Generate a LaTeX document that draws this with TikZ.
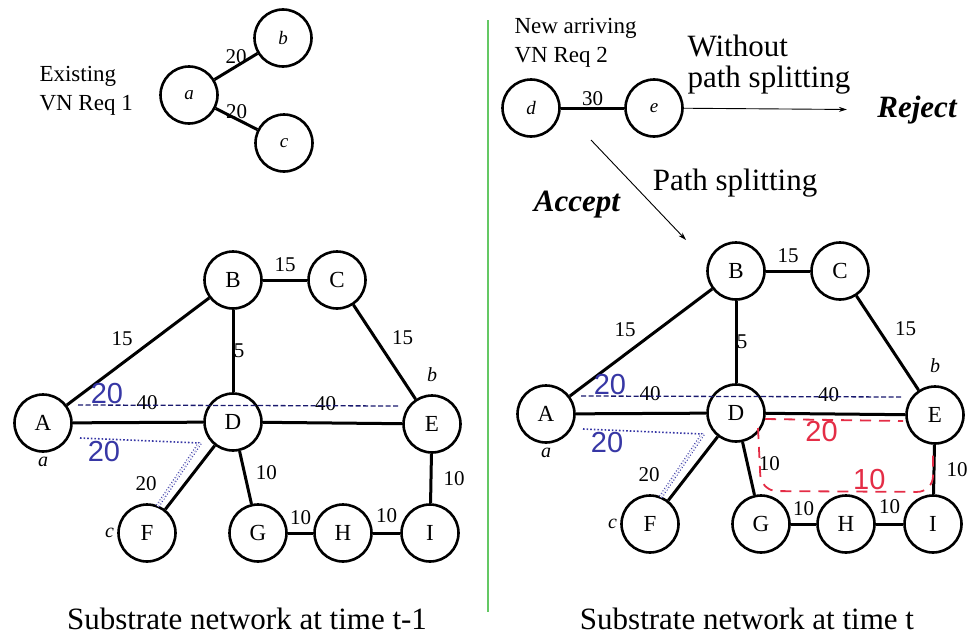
\documentclass[tikz,border=0pt]{standalone}
\usepackage{fontspec}
\setmainfont{Liberation Serif}
\newfontfamily\numsans{Liberation Sans}
\usetikzlibrary{calc,arrows.meta}

\definecolor{reqblue}{RGB}{55,55,165}
\definecolor{pathnavy}{RGB}{25,25,110}
\definecolor{splitred}{RGB}{228,45,70}
\definecolor{divgreen}{RGB}{100,200,100}

\tikzset{
  vnode/.style={draw, circle, line width=2.6pt, minimum size=57pt, inner sep=0pt, font=\fontsize{19}{19}\selectfont\itshape},
  snode/.style={draw, circle, line width=2.6pt, minimum size=57pt, inner sep=0pt, font=\fontsize{23}{23}\selectfont},
  link/.style={line width=3pt},
  wt/.style={font=\fontsize{21}{21}\selectfont, inner sep=1pt},
  mapto/.style={font=\fontsize{20}{20}\selectfont\itshape, inner sep=1pt},
  bignum/.style={font=\fontsize{29}{29}\selectfont\numsans, inner sep=1pt},
  note/.style={align=left, font=\fontsize{23}{29}\selectfont},
  bigtext/.style={font=\fontsize{31}{31}\selectfont},
  verdict/.style={font=\fontsize{31}{31}\selectfont\bfseries\itshape},
  flow/.style={-{Stealth[length=8pt,width=5pt]}, line width=0.9pt},
  redsplit/.style={splitred, line width=1.8pt, dash pattern=on 11pt off 8pt},
}

\begin{document}
\begin{tikzpicture}[x=1pt, y=-1pt]
  \useasboundingbox (0,0) rectangle (968,637);

  % existing request
  \node[vnode] (a) at (189,95) {a};
  \node[vnode] (b) at (283,38) {b};
  \node[vnode] (c) at (284,143) {c};
  \node[note, anchor=west] (req1) at (36,91) {Existing\\VN Req 1};
  \draw[link] (a) -- node[wt, above]{20} (b);
  \draw[link] (a) -- node[wt, above=-2pt]{20} (c);

  % new request
  \node[vnode] (d) at (531,108) {d};
  \node[vnode] (e) at (654,108) {e};
  \node[note, anchor=west] (req2) at (511,43) {New arriving\\VN Req 2};
  \node[verdict] (reject) at (917,110) {Reject};
  \draw[link] (d) -- node[wt, above]{30} (e);
  \draw[flow, shorten >=27pt] (e) -- node[bigtext, pos=0, anchor=south west, align=left, yshift=10pt]{Without\\path splitting} (reject);
  \node[bigtext] (pathsplit) at (735,183) {Path splitting};
  \node[verdict] (accept) at (577,205) {Accept};
  \coordinate (splitfrom) at (591,140);
  \coordinate (splitto) at (686,240);
  \draw[flow] (splitfrom) -- (splitto);

  % divider
  \draw[divgreen, line width=1.6pt] (488,20) -- (488,612);

  % substrate network, t-1 and t
  \foreach \p/\dx/\dy in {1/0/0, 2/503/-9}{
  \begin{scope}[shift={(\dx,\dy)}]
    \node[snode] (A\p) at (43,423) {A};
    \node[snode] (B\p) at (233,280) {B};
    \node[snode] (C\p) at (337,280) {C};
    \node[snode] (D\p) at (233,422) {D};
    \node[snode] (E\p) at (432,424) {E};
    \node[snode] (F\p) at (147,533) {F};
    \node[snode] (G\p) at (258,533) {G};
    \node[snode] (H\p) at (343,533) {H};
    \node[snode] (I\p) at (430,533) {I};
    \draw[link] (A\p) -- node[wt, above left=3pt]{15} (B\p);
    \draw[link] (B\p) -- node[wt, above=6pt]{15} (C\p);
    \draw[link] (B\p) -- node[wt, xshift=6pt]{5} (D\p);
    \draw[link] (C\p) -- node[wt, above right=5pt]{15} (E\p);
    \draw[link] (A\p) -- node[wt, above=10pt, pos=.57]{40} (D\p);
    \draw[link] (D\p) -- node[wt, above=10pt, pos=.45]{40} (E\p);
    \draw[link] (D\p) -- node[wt, right=9pt, pos=.4]{10} (G\p);
    \draw[link] (D\p) -- node[wt, left=26pt, pos=.6]{20} (F\p);
    \draw[link] (E\p) -- node[wt, right=10pt]{10} (I\p);
    \draw[link] (G\p) -- node[wt, above=6pt]{10} (H\p);
    \draw[link] (H\p) -- node[wt, above=8pt]{10} (I\p);
    % where VN Req 1 sits
    \node[mapto, below=3pt] (ma\p) at (A\p.south) {a};
    \node[mapto, above=11pt] (mb\p) at (E\p.north) {b};
    \node[mapto, left=2pt] (mc\p) at (F\p.west) {c};
    \draw[pathnavy, line width=1.3pt, dash pattern=on 5pt off 2.5pt] ($(A\p)+(35,-18)$) -- node[bignum, text=reqblue, pos=.09, above]{20} ($(E\p)+(-32,-18)$);
    \draw[reqblue, line width=1.6pt, dotted] ($(A\p)+(37,15)$) -- node[bignum, pos=.2, below]{20} ($(D\p)+(-33,21)$);
    \draw[reqblue, line width=1pt, dotted, double, double distance=2pt] ($(D\p)+(-33,21)$) -- ($(F\p)+(10,-26)$);
  \end{scope}}

  % split path for VN Req 2
  \draw[redsplit] ($(D2)+(29,6)$) -- node[bignum, text=splitred, below, pos=.41]{20} ($(E2)+(-32,6)$);
  \draw[redsplit, rounded corners=16pt] ($(D2)+(22,15)$) -- ($(D2)+(25,78)$) -- node[bignum, text=splitred, above, pos=.63]{10} ($(E2)+(-2,77)$) -- ($(E2)+(-2,39)$);

  \node[bigtext, inner sep=0pt] (cap1) at (247,619) {Substrate network at time t-1};
  \node[bigtext, inner sep=0pt] (cap2) at (747,619) {Substrate network at time t};
\end{tikzpicture}
\end{document}
